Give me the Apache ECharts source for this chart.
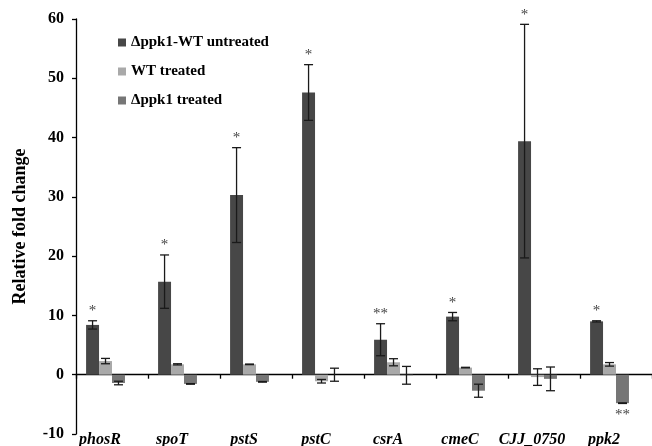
<!DOCTYPE html>
<html><head><meta charset="utf-8">
<script src="https://cdn.jsdelivr.net/npm/echarts@6/dist/echarts.min.js"></script>
<style>html,body{margin:0;padding:0;background:#fff}#c{width:652px;height:446px}</style>
</head><body><div id="c"></div>
<script>
const categories = ['phosR','spoT','pstS','pstC','csrA','cmeC','CJJ_0750','ppk2'];
const seriesNames = ['Δppk1-WT untreated','WT treated','Δppk1 treated'];
const untreated = [8.4, 15.7, 30.3, 47.6, 5.9, 9.8, 39.4, 9.0];
const untreatedErr = [0.7, 4.5, 8.0, 4.7, 2.7, 0.7, 19.7, 0.1];
const wtTreated = [2.3, 1.75, 1.75, -1.1, 2.1, 1.2, -0.4, 1.75];
const wtTreatedErr = [0.45, 0.1, 0.05, 0.3, 0.6, 0.05, 1.4, 0.3];
const mutTreated = [-1.4, -1.55, -1.2, 0, -0.1, -2.7, -0.7, -4.8];
const mutTreatedErr = [0.3, 0.05, 0.05, 1.1, 1.5, 1.1, 2.0, 0.05];
const sigAbove = ['*','*','*','*','**','*','*','*'];
const sigBelow = ['','','','','','','','**'];
const yMin = -10, yMax = 60, yInterval = 10;

const GAP = 0.28, NSLOT = 4;
const FONT = '"Liberation Serif","Times New Roman",serif';
const colors = ['#474747', '#a9a9a9', '#767676'];

function errSeries(sIdx, vals, errs, above, below) {
  const data = vals.map((v, i) => [i, v, errs[i]]);
  return {
    type: 'custom', z: 5, silent: true, data,
    encode: { x: 0, y: 1 },
    renderItem(params, api) {
      const i = params.dataIndex;
      const ci = api.value(0), v = api.value(1), e = api.value(2);
      const c = api.coord([ci, v]);
      const band = api.size([1, 0])[0];
      const groupW = band * (1 - GAP);
      const bw = groupW / NSLOT;
      const x = c[0] - groupW / 2 + (sIdx + 0.5) * bw;
      const yTop = api.coord([ci, v + e])[1];
      const yBot = api.coord([ci, v - e])[1];
      const cap = 4.5;
      const st = { stroke: '#1a1a1a', lineWidth: 1.3 };
      const ch = [
        { type: 'line', shape: { x1: x, y1: yTop, x2: x, y2: yBot }, style: st },
        { type: 'line', shape: { x1: x - cap, y1: yTop, x2: x + cap, y2: yTop }, style: st },
        { type: 'line', shape: { x1: x - cap, y1: yBot, x2: x + cap, y2: yBot }, style: st }
      ];
      if (above && above[i]) {
        ch.push({ type: 'text', style: { text: above[i], x: x, y: yTop - 2, align: 'center', verticalAlign: 'bottom', font: '15px ' + FONT, fill: '#444' } });
      }
      if (below && below[i]) {
        const yb = api.coord([ci, Math.min(v, v - e)])[1];
        ch.push({ type: 'text', style: { text: below[i], x: x, y: yb + 4, align: 'center', verticalAlign: 'top', font: '15px ' + FONT, fill: '#444' } });
      }
      return { type: 'group', children: ch };
    }
  };
}

const chart = echarts.init(document.getElementById('c'), null, { renderer: 'canvas' });
chart.setOption({
  animation: false,
  backgroundColor: '#fff',
  grid: { left: 76, right: 0, top: 19, bottom: 12, containLabel: false, outerBoundsMode: 'none' },
  legend: {
    data: seriesNames, orient: 'vertical', left: 113, top: 30,
    icon: 'rect', itemWidth: 8, itemHeight: 8, itemGap: 14,
    textStyle: { fontFamily: FONT, fontWeight: 'bold', fontSize: 15, color: '#000', lineHeight: 15 }
  },
  xAxis: [{
    type: 'category', data: categories,
    axisLine: { onZero: true, lineStyle: { color: '#000', width: 1.3 } },
    axisTick: { show: true, length: 4, lineStyle: { color: '#000', width: 1.3 } },
    axisLabel: { show: false }
  }, {
    type: 'category', data: categories, position: 'bottom', gridIndex: 0,
    axisLine: { show: false, onZero: false }, axisTick: { show: false },
    axisLabel: { interval: 0, hideOverlap: false, margin: -2, fontFamily: FONT, fontWeight: 'bold', fontStyle: 'italic', fontSize: 16, lineHeight: 16, color: '#000', padding: [0, 24, 0, 0] }
  }],
  yAxis: {
    type: 'value', min: yMin, max: yMax, interval: yInterval,
    axisLine: { show: true, lineStyle: { color: '#000', width: 1.3 } },
    axisTick: { show: true, length: 4, lineStyle: { color: '#000', width: 1.3 } },
    splitLine: { show: false },
    axisLabel: { margin: 12, fontFamily: FONT, fontWeight: 'bold', fontSize: 16, color: '#000' },
    name: 'Relative fold change', nameLocation: 'middle', nameGap: 47,
    nameTextStyle: { fontFamily: FONT, fontWeight: 'bold', fontSize: 18, color: '#000' }
  },
  series: [
    { type: 'bar', name: seriesNames[0], data: untreated, itemStyle: { color: colors[0] }, barGap: '0%', barCategoryGap: (GAP * 100) + '%' },
    { type: 'bar', name: seriesNames[1], data: wtTreated, itemStyle: { color: colors[1] }, barGap: '0%', barCategoryGap: (GAP * 100) + '%' },
    { type: 'bar', name: seriesNames[2], data: mutTreated, itemStyle: { color: colors[2] }, barGap: '0%', barCategoryGap: (GAP * 100) + '%' },
    { type: 'bar', name: 'slot', data: categories.map(() => null), barGap: '0%', barCategoryGap: (GAP * 100) + '%' },
    errSeries(0, untreated, untreatedErr, sigAbove, null),
    errSeries(1, wtTreated, wtTreatedErr, null, null),
    errSeries(2, mutTreated, mutTreatedErr, null, sigBelow)
  ]
});
</script></body></html>
